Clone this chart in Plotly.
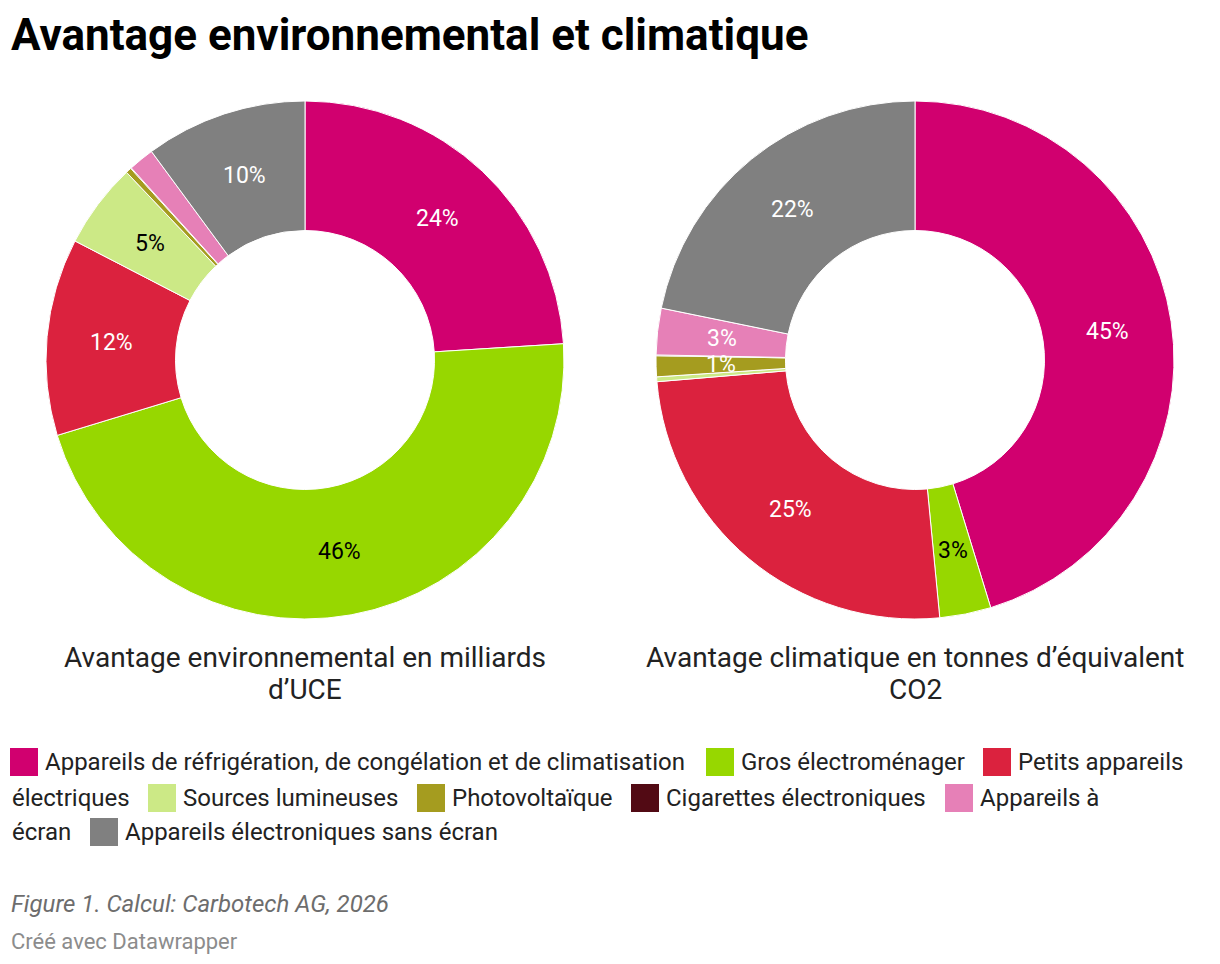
import math
import plotly.graph_objects as go

categories = [
    "Appareils de réfrigération, de congélation et de climatisation",
    "Gros électroménager",
    "Petits appareils électriques",
    "Sources lumineuses",
    "Photovoltaïque",
    "Cigarettes électroniques",
    "Appareils à écran",
    "Appareils électroniques sans écran",
]
colors = ["#d1006f", "#97d700", "#db223e", "#cce986", "#a59c1f", "#520a14", "#e680b7", "#808080"]
text_colors = ["white", "black", "white", "black", "white", "white", "white", "white"]

env_values = [24.0, 46.3, 12.3, 5.3, 0.35, 0.05, 1.6, 10.1]
clim_values = [45.3, 3.2, 25.2, 0.3, 1.3, 0.05, 2.9, 21.8]

env_show = [True, True, True, True, False, False, False, True]
clim_show = [True, True, True, False, True, False, True, True]

title = "Avantage environnemental et climatique"
env_title = ["Avantage environnemental en milliards", "d’UCE"]
clim_title = ["Avantage climatique en tonnes d’équivalent", "CO2"]
source = "Figure 1. Calcul: Carbotech AG, 2026"
credit = "Créé avec Datawrapper"

W, H = 1220, 964
FONT = "Roboto"
PIE_TOP, PIE_BOTTOM = 101, 619
HOLE = 0.5
LABEL_SIZE = 23


def px(x):
    return x / W


def py(y):
    return 1 - y / H


annotations = []
fig = go.Figure()
for vals, show, dom in [
    (env_values, env_show, [46, 564]),
    (clim_values, clim_show, [656, 1174]),
]:
    fig.add_trace(go.Pie(
        labels=categories,
        values=vals,
        textinfo="none",
        marker=dict(colors=colors, line=dict(color="white", width=1)),
        hole=HOLE,
        sort=False,
        direction="clockwise",
        rotation=0,
        showlegend=False,
        hoverinfo="label+percent",
        domain=dict(x=[px(dom[0]), px(dom[1])], y=[py(PIE_BOTTOM), py(PIE_TOP)]),
    ))
    # Datawrapper-style value labels: centred in the ring at each slice's mid-angle
    total = sum(vals)
    cx = (dom[0] + dom[1]) / 2
    cy = (PIE_TOP + PIE_BOTTOM) / 2
    r_mid = (PIE_BOTTOM - PIE_TOP) / 2 * (1 + HOLE) / 2
    cum = 0.0
    for i, (v, s) in enumerate(zip(vals, show)):
        if s:
            theta = 2 * math.pi * (cum + v / 2) / total
            annotations.append(dict(
                text=f"{round(v / total * 100)}%",
                x=px(cx + r_mid * math.sin(theta)), y=py(cy - r_mid * math.cos(theta)),
                xanchor="center", yanchor="middle",
                font=dict(family=FONT, size=LABEL_SIZE, color=text_colors[i])))
        cum += v

annotations += [
    dict(text=f"<b>{title}</b>", x=px(9), y=py(35), xanchor="left", yanchor="middle",
         font=dict(family=FONT, size=44, color="#000000")),
    dict(text=f"<i>{source}</i>", x=px(9), y=py(904), xanchor="left", yanchor="middle",
         font=dict(family=FONT, size=24, color="#6d6d6d")),
    dict(text=credit, x=px(9), y=py(941), xanchor="left", yanchor="middle",
         font=dict(family=FONT, size=22, color="#8c8c8c")),
]
for cx, lines in [(305, env_title), (915, clim_title)]:
    for k, line in enumerate(lines):
        annotations.append(dict(text=line, x=px(cx), y=py(657 + 32 * k), xanchor="center",
                                yanchor="middle", font=dict(family=FONT, size=28, color="#222222")))

# custom flowing legend (Datawrapper style)
row_y = [762, 798, 832]
legend_pos = [(0, 10), (0, 706), (0, 983), (1, 148), (1, 417), (1, 631), (1, 945), (2, 90)]
wraps = {2: (2, (1, 10)), 6: (2, (2, 10))}  # idx: (words on first line, (row, x) of continuation)
shapes = []
for i, (row, sx) in enumerate(legend_pos):
    y = row_y[row]
    shapes.append(dict(type="rect", xref="paper", yref="paper",
                       x0=px(sx), x1=px(sx + 28), y0=py(y + 14), y1=py(y - 14),
                       fillcolor=colors[i], line=dict(width=0)))
    name = categories[i]
    if i in wraps:
        n, (crow, cx) = wraps[i]
        words = name.split(" ")
        first, rest = " ".join(words[:n]), " ".join(words[n:])
        annotations.append(dict(text=rest, x=px(cx), y=py(row_y[crow]), xanchor="left",
                                yanchor="middle", font=dict(family=FONT, size=24, color="#222222")))
        name = first
    annotations.append(dict(text=name, x=px(sx + 33), y=py(y), xanchor="left", yanchor="middle",
                            font=dict(family=FONT, size=24, color="#222222")))

for a in annotations:
    a.update(xref="paper", yref="paper", showarrow=False)

fig.update_layout(
    width=W, height=H,
    margin=dict(l=0, r=0, t=0, b=0),
    paper_bgcolor="white", plot_bgcolor="white",
    annotations=annotations, shapes=shapes,
    font=dict(family=FONT),
)
fig.write_html("out.html")
